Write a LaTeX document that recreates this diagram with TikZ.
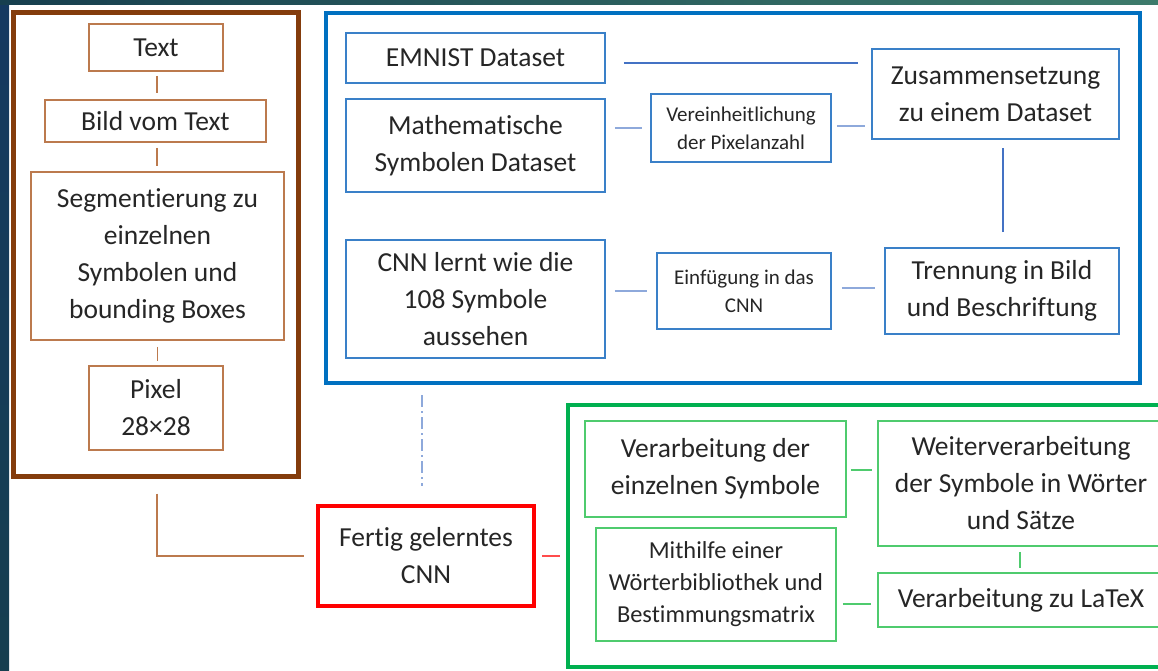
\documentclass[tikz,border=0pt]{standalone}
\usepackage{fontspec}
\setmainfont{Carlito}[Ligatures=NoCommon]
\definecolor{txt}{HTML}{262626}
\definecolor{brdark}{HTML}{843C0C}
\definecolor{brlight}{HTML}{BC7A4E}
\definecolor{bldark}{HTML}{0070C0}
\definecolor{bllight}{HTML}{3A80C8}
\definecolor{blconn}{HTML}{8EA9DB}
\definecolor{blthin}{HTML}{4472C4}
\definecolor{grdark}{HTML}{00B050}
\definecolor{grlight}{HTML}{4FCB6E}
\definecolor{redc}{HTML}{FF0000}
\definecolor{bgdark}{HTML}{173F4F}
\definecolor{bgright}{HTML}{3D7B6B}
\tikzset{
  box/.style={draw, rectangle, align=center, inner sep=0pt, text=txt,
    font=\fontsize{27.5}{37}\selectfont},
  smallfont/.style={font=\fontsize{21}{28}\selectfont},
  midfont/.style={font=\fontsize{24.4}{32}\selectfont},
  brownbig/.style={draw=brdark, line width=5pt},
  brownbox/.style={box, draw=brlight, line width=1.6pt},
  bluebig/.style={draw=bldark, line width=4pt},
  bluebox/.style={box, draw=bllight, line width=1.6pt},
  greenbig/.style={draw=grdark, line width=4pt},
  greenbox/.style={box, draw=grlight, line width=1.6pt},
  redbox/.style={box, draw=redc, line width=4.5pt},
  brconn/.style={draw=brlight, line width=1.8pt},
  blconnector/.style={draw=blconn, line width=2.8pt},
  blthinline/.style={draw=blthin, line width=1.4pt},
  grconn/.style={draw=grlight, line width=2pt},
  rdconn/.style={draw=redc!70, line width=1.6pt},
  dashdotline/.style={draw=blconn, line width=1.6pt, dash pattern=on 12pt off 4pt on 2pt off 4pt},
}
\begin{document}
\begin{tikzpicture}[x=1pt,y=-1pt]
\clip (0,0) rectangle (1158,670);
\useasboundingbox (0,0) rectangle (1158,670);
% background
\fill[white] (0,0) rectangle (1158,670);
\shade[top color=bgdark!90!blue, bottom color=bgdark] (0,0) rectangle (9,670);
\shade[left color=bgdark, right color=bgright] (0,0) rectangle (1158,4);

% ===== brown group =====
\node[brownbig, minimum width=285pt, minimum height=464pt] (bout) at (155.5,244) {};
\node[brownbox, minimum width=134pt, minimum height=47pt] (btext) at (156,47.5) {Text};
\node[brownbox, minimum width=221pt, minimum height=42pt] (bbild) at (155.5,121) {Bild vom Text};
\node[brownbox, minimum width=253pt, minimum height=168pt] (bseg) at (157.5,256) {Segmentierung zu\\einzelnen\\Symbolen und\\bounding Boxes};
\node[brownbox, minimum width=134pt, minimum height=84pt] (bpix) at (156,408) {Pixel\\28×28};
\draw[brconn, shorten <=4pt, shorten >=6pt] ([xshift=1pt]btext.south) -- ([xshift=1pt]btext.south |- bbild.north);
\draw[brconn, shorten <=5pt, shorten >=5pt] ([xshift=1.5pt]bbild.south) -- ([xshift=1.5pt]bbild.south |- bseg.north);
\draw[brconn, shorten <=6pt, shorten >=4pt] (bseg.south) -- (bseg.south |- bpix.north);

% ===== blue group =====
\node[bluebig, minimum width=814pt, minimum height=370pt] (blout) at (733,198) {};
\node[bluebox, minimum width=259pt, minimum height=50pt] (emnist) at (475.5,58) {EMNIST Dataset};
\node[bluebox, minimum width=259pt, minimum height=93pt] (math) at (475.5,145.5) {Mathematische\\Symbolen Dataset};
\node[bluebox, smallfont, minimum width=180pt, minimum height=68pt] (ver) at (741,128) {Vereinheitlichung\\der Pixelanzahl};
\node[bluebox, minimum width=247pt, minimum height=90pt] (zus) at (995.5,94) {Zusammensetzung\\zu einem Dataset};
\node[bluebox, minimum width=259pt, minimum height=118pt] (cnnl) at (475.5,299) {CNN lernt wie die\\108 Symbole\\aussehen};
\node[bluebox, smallfont, minimum width=174pt, minimum height=76pt] (einf) at (744,291) {\raisebox{4pt}{\parbox{170pt}{\centering Einfügung in das\\CNN}}};
\node[bluebox, minimum width=234pt, minimum height=86pt] (trenn) at (1002,291) {Trennung in Bild\\und Beschriftung};
\draw[blthinline, shorten <=18pt, shorten >=13pt] ([yshift=-5pt]emnist.east) -- ([yshift=-5pt]emnist.east -| zus.west);
\draw[blconnector, shorten <=9pt, shorten >=8pt] (math.east |- ver.west) -- (ver.west);
\draw[blconnector, shorten <=5pt, shorten >=6pt] ([yshift=2pt]ver.east) -- ([yshift=2pt]ver.east -| zus.west);
\draw[blthinline, shorten <=15pt, shorten >=8pt] ([xshift=1pt]trenn.north) -- ([xshift=1pt]trenn.north |- zus.south);
\draw[blconnector, shorten <=9pt, shorten >=9pt] (cnnl.east |- einf.west) -- (einf.west);
\draw[blconnector, shorten <=10pt, shorten >=9pt] ([yshift=3pt]einf.east) -- ([yshift=3pt]einf.east -| trenn.west);

% ===== red =====
\node[redbox, minimum width=216pt, minimum height=100pt] (cnn) at (426,556) {Fertig gelerntes\\CNN};
\draw[dashdotline, shorten <=10pt, shorten >=18pt] ([xshift=-4pt]blout.south -| cnn.north) -- ([xshift=-4pt]cnn.north);
\draw[brconn, shorten <=15pt, shorten >=12pt] ([xshift=1.5pt]bout.south) |- (cnn.west);

% ===== green group =====
\node[greenbig, minimum width=607pt, minimum height=262pt] (gout) at (871.5,536) {};
\node[greenbox, minimum width=261pt, minimum height=96pt] (verarb) at (715.5,469) {\raisebox{5pt}{\parbox{255pt}{\centering Verarbeitung der\\einzelnen Symbole}}};
\node[greenbox, minimum width=286pt, minimum height=125pt] (weiter) at (1021,483.5) {Weiterverarbeitung\\der Symbole in Wörter\\und Sätze};
\node[greenbox, midfont, minimum width=240pt, minimum height=113pt] (mit) at (716,584.5) {Mithilfe einer\\Wörterbibliothek und\\Bestimmungsmatrix};
\node[greenbox, minimum width=286pt, minimum height=54pt] (latex) at (1021,600) {Verarbeitung zu LaTeX};
\draw[rdconn, shorten <=6pt, shorten >=6pt] (cnn.east) -- (cnn.east -| gout.west);
\draw[grconn, shorten <=4pt, shorten >=5pt] ([yshift=-1pt]verarb.east) -- ([yshift=-1pt]verarb.east -| weiter.west);
\draw[grconn, shorten <=5pt, shorten >=4pt] ([xshift=-1pt]weiter.south) -- ([xshift=-1pt]latex.north);
\draw[grconn, shorten <=6pt, shorten >=6pt] ([yshift=-4pt]latex.west -| mit.east) -- ([yshift=-4pt]latex.west);
\end{tikzpicture}
\end{document}
